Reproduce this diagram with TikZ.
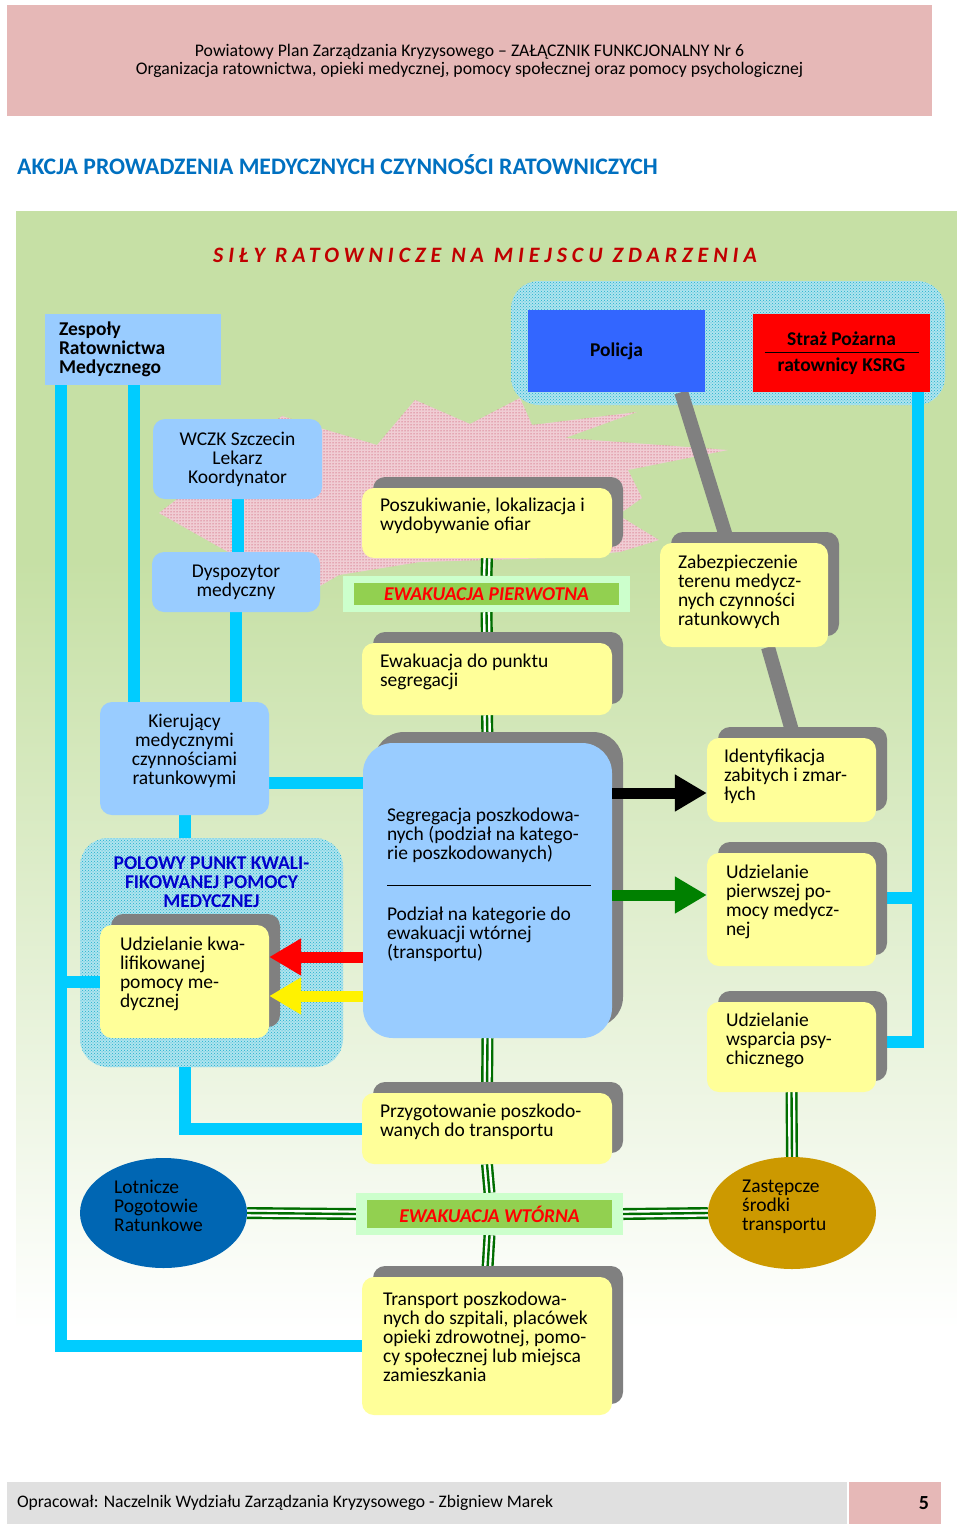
\documentclass[tikz,border=0pt]{standalone}
\usepackage{fontspec}
\setmainfont{Carlito}
\usepackage{xcolor}
\usetikzlibrary{positioning,shapes.geometric,arrows.meta,shadows,patterns}

\definecolor{naglowek}{RGB}{230,184,183}
\definecolor{stopka}{RGB}{224,224,224}
\definecolor{tytul}{RGB}{0,112,192}
\definecolor{bordo}{RGB}{192,0,0}
\definecolor{ziel}{RGB}{198,224,165}
\definecolor{zolty}{RGB}{255,255,153}
\definecolor{cien}{RGB}{128,128,128}
\definecolor{blekit}{RGB}{153,204,255}
\definecolor{cyjan}{RGB}{0,204,255}
\definecolor{policja}{RGB}{51,102,255}
\definecolor{ewjasny}{RGB}{204,255,204}
\definecolor{ewciemny}{RGB}{146,208,80}
\definecolor{ciemnoziel}{RGB}{0,110,0}
\definecolor{zielen}{RGB}{0,128,0}
\definecolor{granat}{RGB}{0,0,204}
\definecolor{lpr}{RGB}{0,102,179}
\definecolor{zloty}{RGB}{204,153,0}
\definecolor{siatka}{RGB}{175,228,238}
\definecolor{siatkac}{RGB}{30,175,205}
\definecolor{wybuch}{RGB}{240,205,212}
\definecolor{wybuchk}{RGB}{190,40,70}

\newcommand{\tekst}{\fontsize{19.5}{19}\selectfont\lineskiplimit=-20pt}

\pgfdeclarelayer{tlo}
\pgfdeclarelayer{linie}
\pgfsetlayers{tlo,linie,main}

\tikzset{
  ybox/.style={fill=zolty, rounded corners=12pt, inner sep=0pt,
    general shadow={fill=cien, shadow xshift=11pt, shadow yshift=11pt}},
  bbox/.style={fill=blekit, rounded corners=12pt, inner sep=0pt, align=center, font=\tekst},
  lbl/.style={inner sep=0pt, align=left, font=\tekst},
  grupa/.style={rounded corners=28pt, inner sep=0pt, preaction={fill=siatka},
    pattern=crosshatch dots, pattern color=siatkac},
  ewbox/.style={fill=ewciemny, inner sep=0pt, text=red,
    font=\fontsize{19.5}{20}\selectfont\bfseries\itshape},
  cyanline/.style={draw=cyjan, line width=12pt},
  grayline/.style={draw=cien, line width=14pt},
  triple/.style={draw=ciemnoziel, line width=12pt,
    postaction={draw=white, line width=7.2pt},
    postaction={draw=ciemnoziel, line width=2.4pt}},
  bigarrow/.style={line width=11pt, -{Triangle[length=32pt,width=35pt]}}
}

\begin{document}
\begin{tikzpicture}[x=1pt,y=-1pt]
\useasboundingbox (0,0) rectangle (960,1529);

% naglowek strony
\node[fill=naglowek, minimum width=925, minimum height=111, inner sep=0pt, align=center,
  font=\fontsize{17.7}{18}\selectfont] (naglowek) at (469.5,60.5)
  {Powiatowy Plan Zarządzania Kryzysowego – ZAŁĄCZNIK FUNKCJONALNY Nr 6\\Organizacja ratownictwa, opieki medycznej, pomocy społecznej oraz pomocy psychologicznej};
\node[anchor=base west, inner sep=0pt, text=tytul, font=\fontsize{23.7}{26}\selectfont\bfseries]
  (tytul) at (17,174) {AKCJA PROWADZENIA MEDYCZNYCH CZYNNOŚCI RATOWNICZYCH};

% tlo schematu
\begin{pgfonlayer}{tlo}
  \fill[ziel] (16,211) rectangle (957,561);
  \shade[top color=ziel, bottom color=white] (16,560) rectangle (957,1330);
  \fill[wybuch, postaction={pattern=dots, pattern color=wybuchk}]
    (159,513) -- (215,470) -- (282,416) -- (320,428) -- (377,445) -- (415,400)
    -- (470,424) -- (520,398) -- (532,425) -- (637,412) -- (565,438) -- (728,450)
    -- (628,470) -- (642,498) -- (618,515) -- (659,540) -- (620,552) -- (553,558)
    -- (420,562) -- (339,575) -- (320,586) -- (228,552) -- cycle;
  \node[grupa, minimum width=434, minimum height=124] (sluzby) at (728,343) {};
  \node[grupa, minimum width=263, minimum height=229] (polowy) at (211.5,952.5) {};
\end{pgfonlayer}

\node[anchor=base west, inner sep=0pt, text=bordo,
  font=\fontsize{22}{24}\selectfont\bfseries\itshape\addfontfeatures{LetterSpace=22.5}]
  (sily) at (213,262) {SIŁY RATOWNICZE NA MIEJSCU ZDARZENIA};

% sily na miejscu
\node[fill=blekit, minimum height=71, text width=148, inner xsep=14pt, inner ysep=0pt,
  align=left, font=\tekst\bfseries] (zrm) at (133,349.5) {Zespoły\\Ratownictwa\\Medycznego};
\node[fill=policja, minimum width=177, minimum height=82, inner sep=0pt, font=\tekst\bfseries]
  (policja) at (616.5,351) {Policja};
\node[fill=red, minimum width=177, minimum height=78, inner sep=0pt, align=center, font=\tekst\bfseries]
  (straz) at (841.5,353) {Straż Pożarna\\[-11.5pt]\rule{154pt}{0.8pt}\\ratownicy KSRG};

% lewa kolumna
\node[bbox, minimum width=169, minimum height=80] (wczk) at (237.5,459) {WCZK Szczecin\\Lekarz\\Koordynator};
\node[bbox, minimum width=168, minimum height=60] (dysp) at (236,582) {Dyspozytor\\medyczny};
\node[bbox, minimum width=169, minimum height=113] (kier) at (184.5,758.5) {};
\node[lbl, align=center, anchor=north] (kier-t) at ([yshift=-12pt]kier.north)
  {Kierujący\\medycznymi\\czynnościami\\ratunkowymi};
\node[lbl, align=center, anchor=north, text=granat, font=\tekst\bfseries] (polowy-t)
  at ([yshift=-18.5pt]polowy.north) {POLOWY PUNKT KWALI-\\FIKOWANEJ POMOCY\\MEDYCZNEJ};
\node[ybox, minimum width=169, minimum height=113] (kwal) at (184.5,981.5) {};
\node[lbl, below right=12pt and 20pt of kwal.north west] (kwal-t)
  {Udzielanie kwa-\\lifikowanej\\pomocy me-\\dycznej};

% srodkowa kolumna
\node[ybox, minimum width=250, minimum height=70] (posz) at (487,523) {};
\node[lbl, below right=10pt and 18pt of posz.north west] (posz-t)
  {Poszukiwanie, lokalizacja i\\wydobywanie ofiar};
\node[fill=ewjasny, minimum width=287, minimum height=36, inner sep=0pt] (ewp) at (486.5,594) {};
\node[ewbox, minimum width=265, minimum height=22] (ewp-t) at (ewp.center) {EWAKUACJA PIERWOTNA};
\node[ybox, minimum width=250, minimum height=72] (ewpunkt) at (487,679) {};
\node[lbl, below right=11pt and 18pt of ewpunkt.north west] (ewpunkt-t)
  {Ewakuacja do punktu\\segregacji};
\node[ybox, fill=blekit, rounded corners=30pt, minimum width=249, minimum height=295]
  (segr) at (487.5,890.5) {};
\node[lbl, below right=65pt and 24pt of segr.north west] (segr-t)
  {Segregacja poszkodowa-\\nych (podział na katego-\\rie poszkodowanych)\\[7.5pt]\rule{204pt}{1pt}\\[15.5pt]Podział na kategorie do\\ewakuacji wtórnej\\(transportu)};
\node[ybox, minimum width=250, minimum height=71] (przyg) at (487,1128.5) {};
\node[lbl, below right=11pt and 18pt of przyg.north west] (przyg-t)
  {Przygotowanie poszkodo-\\wanych do transportu};
\node[fill=ewjasny, minimum width=267, minimum height=42, inner sep=0pt] (ewt) at (489.5,1214) {};
\node[ewbox, minimum width=245, minimum height=28] (ewt-t) at (ewt.center) {EWAKUACJA WTÓRNA};
\node[ybox, minimum width=250, minimum height=138] (transp) at (487,1346) {};
\node[lbl, below right=15pt and 21pt of transp.north west] (transp-t)
  {Transport poszkodowa-\\nych do szpitali, placówek\\opieki zdrowotnej, pomo-\\cy społecznej lub miejsca\\zamieszkania};

% prawa kolumna
\node[ybox, minimum width=168, minimum height=104] (zabez) at (744,595) {};
\node[lbl, below right=12pt and 18pt of zabez.north west] (zabez-t)
  {Zabezpieczenie\\terenu medycz-\\nych czynności\\ratunkowych};
\node[ybox, minimum width=169, minimum height=84] (ident) at (791.5,780) {};
\node[lbl, below right=11pt and 17pt of ident.north west] (ident-t)
  {Identyfikacja\\zabitych i zmar-\\łych};
\node[ybox, minimum width=169, minimum height=113] (pierw) at (791.5,909.5) {};
\node[lbl, below right=12pt and 19pt of pierw.north west] (pierw-t)
  {Udzielanie\\pierwszej po-\\mocy medycz-\\nej};
\node[ybox, minimum width=169, minimum height=90] (wspar) at (791.5,1047) {};
\node[lbl, below right=11pt and 19pt of wspar.north west] (wspar-t)
  {Udzielanie\\wsparcia psy-\\chicznego};

% srodki transportu
\node[ellipse, fill=lpr, minimum width=167, minimum height=110, inner sep=0pt] (lotn) at (163.5,1213) {};
\node[lbl, anchor=north west] (lotn-t) at ([shift={(-49.5pt,-22pt)}]lotn.north)
  {Lotnicze\\Pogotowie\\Ratunkowe};
\node[ellipse, fill=zloty, minimum width=168, minimum height=112, inner sep=0pt] (zast) at (792,1213) {};
\node[lbl, anchor=north west] (zast-t) at ([shift={(-50pt,-23pt)}]zast.north)
  {Zastępcze\\środki\\transportu};

% stopka
\node[fill=stopka, minimum width=840, minimum height=42, inner sep=0pt] (stopka) at (427,1503) {};
\node[anchor=west, inner sep=0pt, font=\fontsize{17.6}{18}\selectfont] (stopka-t)
  at ([xshift=10pt]stopka.west) {Opracował: Naczelnik Wydziału Zarządzania Kryzysowego - Zbigniew Marek};
\node[fill=naglowek, minimum width=92, minimum height=42, inner sep=0pt] (strona) at (895,1503) {};
\node[anchor=east, inner sep=0pt, font=\fontsize{20}{22}\selectfont\bfseries] (strona-t)
  at ([xshift=-12pt]strona.east) {5};

% polaczenia
\begin{pgfonlayer}{linie}
  \coordinate (lx) at ([xshift=16pt]zrm.south west);
  \coordinate (lx2) at ([xshift=89pt]zrm.south west);
  \coordinate (rx) at ([xshift=-12pt]straz.south east);
  \coordinate (kp) at ([yshift=-24.5pt]kier.east);
  \coordinate (pp) at ([yshift=11.5pt]pierw.east);
  \coordinate (wp) at ([yshift=5pt]wspar.east);
  \draw[cyanline] (lx) |- (transp.west);
  \draw[cyanline] (kwal.west) -- (kwal.west -| lx);
  \draw[cyanline] (lx2) -- (lx2 |- kier.north);
  \draw[cyanline] (wczk.south) -- (wczk.south |- dysp.north);
  \draw[cyanline] (dysp.south) -- (dysp.south |- kier.north);
  \draw[cyanline] (kp) -- (kp -| segr.west);
  \draw[cyanline] (kier.south) -- (kier.south |- polowy.north);
  \draw[cyanline] (kier.south |- polowy.south) |- (przyg.west);
  \draw[cyanline] (rx) |- (wp);
  \draw[cyanline] (pp) -- (pp -| rx);

  \draw[grayline] ([xshift=-24pt]policja.south east) -- ([xshift=-16pt]zabez.north);
  \draw[grayline] ([xshift=24pt]zabez.south) -- ([xshift=2.5pt]ident.north);

  \draw[triple] (posz.south) -- (ewp.north);
  \draw[triple] (ewp.south) -- (ewpunkt.north);
  \draw[triple] (ewpunkt.south) -- (segr.north);
  \draw[triple] (segr.south) -- (przyg.north);
  \draw[triple] (przyg.south) -- (ewt.north);
  \draw[triple] (ewt.south) -- (transp.north);
  \draw[triple] (lotn.east) -- (ewt.west);
  \draw[triple] (ewt.east) -- (zast.west);
  \draw[triple] (wspar.south) -- (zast.north);
\end{pgfonlayer}

% strzalki z punktu segregacji
\coordinate (sc) at ([yshift=-13pt]ident.west);
\coordinate (sz) at ([yshift=14.5pt]pierw.west);
\coordinate (sk) at ([yshift=24.5pt]kwal.east);
\coordinate (sy) at ([yshift=-14.5pt]kwal.east);
\draw[bigarrow, black] (sc -| segr.east) -- (sc);
\draw[bigarrow, zielen] (sz -| segr.east) -- (sz);
\draw[bigarrow, red] (sk -| segr.west) -- (sk);
\draw[bigarrow, yellow] (sy -| segr.west) -- (sy);
\end{tikzpicture}
\end{document}
